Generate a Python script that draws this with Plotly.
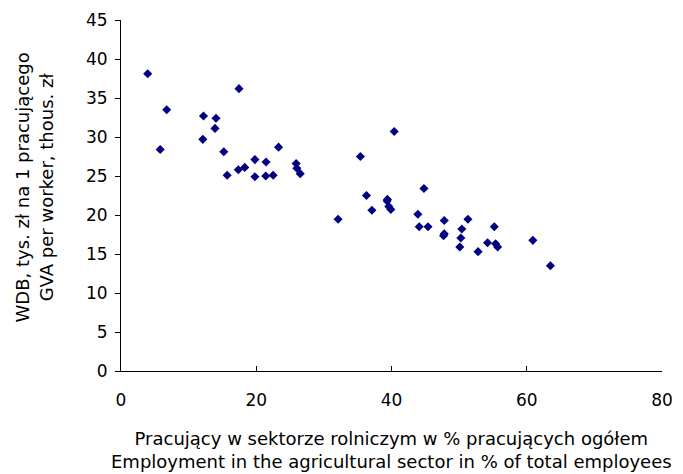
import plotly.graph_objects as go

# Employment in agriculture (% of total) vs GVA per worker (thous. zł)
emp_share = [3.95, 17.45, 6.76, 12.2, 14.05, 13.9, 12.1, 5.8, 15.2, 23.3,
             19.8, 21.45, 25.9, 26.0, 26.5, 15.7, 17.35, 18.3, 19.8, 21.4,
             22.5,
             40.4, 35.4, 44.8, 36.3, 39.4, 39.35, 37.1, 39.6, 39.9, 32.1,
             43.9, 44.1, 45.4, 47.8, 51.3, 50.4, 47.8, 47.7, 50.25, 50.1,
             52.8, 54.2, 55.2, 55.4, 55.7, 60.9, 63.5]
gva_per_worker = [38.1, 36.2, 33.5, 32.7, 32.4, 31.1, 29.7, 28.4, 28.1, 28.7,
                  27.1, 26.8, 26.6, 26.0, 25.3, 25.1, 25.8, 26.1, 24.9, 25.0,
                  25.1,
                  30.7, 27.5, 23.4, 22.5, 22.0, 21.8, 20.6, 21.1, 20.7, 19.45,
                  20.1, 18.5, 18.5, 19.3, 19.45, 18.2, 17.6, 17.35, 17.05, 15.9,
                  15.3, 16.45, 18.5, 16.3, 15.9, 16.75, 13.5]

x_ticks = [0, 20, 40, 60, 80]
y_ticks = [0, 5, 10, 15, 20, 25, 30, 35, 40, 45]

x_title = "Pracujący w sektorze rolniczym w % pracujących ogółem<br>Employment in the agricultural sector in % of total employees"
y_title = "WDB, tys. zł na 1 pracującego<br>GVA per worker, thous. zł"

font_family = "DejaVu Sans, Liberation Sans, Arial, sans-serif"

fig = go.Figure(go.Scatter(
    x=emp_share, y=gva_per_worker, mode="markers",
    marker=dict(symbol="diamond", size=7, color="#000080"),
    showlegend=False,
))

fig.update_layout(
    width=675, height=466,
    margin=dict(l=113, r=21, t=12, b=103),
    paper_bgcolor="white", plot_bgcolor="white",
    font=dict(family=font_family, size=17, color="black"),
    xaxis=dict(range=[0, 80], tickvals=x_ticks, showgrid=False, zeroline=False,
               showline=True, linecolor="black", linewidth=1,
               ticks="inside", ticklen=5, tickcolor="black",
               ticklabelstandoff=14, automargin=False),
    yaxis=dict(range=[0, 45], tickvals=y_ticks, showgrid=False, zeroline=False,
               showline=True, linecolor="black", linewidth=1,
               ticks="outside", ticklen=5, tickcolor="black",
               ticklabelstandoff=4, automargin=False),
    annotations=[
        dict(text=x_title, xref="paper", yref="paper", x=0.5, y=-0.225,
             xanchor="center", yanchor="middle", showarrow=False,
             font=dict(size=18)),
        dict(text=y_title, xref="paper", yref="paper", x=-0.16, y=0.524,
             xanchor="center", yanchor="middle", showarrow=False,
             textangle=-90, font=dict(size=18)),
    ],
)

fig.write_html("out.html")
